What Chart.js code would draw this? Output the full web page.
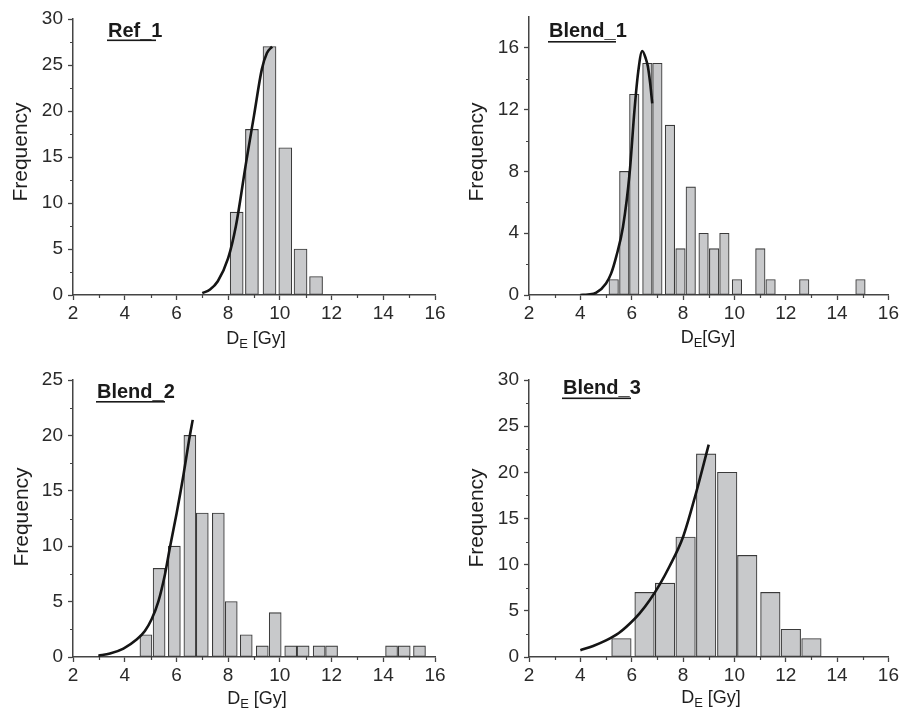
<!DOCTYPE html>
<html>
<head>
<meta charset="utf-8">
<script src="https://cdn.jsdelivr.net/npm/chart.js@4.4.1/dist/chart.umd.min.js"></script>
<style>
  html, body { margin: 0; padding: 0; background: #ffffff; }
  #wrap { position: relative; width: 901px; height: 711px; overflow: hidden; background: #fff; }
  #wrap canvas { position: absolute; }
</style>
</head>
<body>
<div id="wrap">
  <canvas id="c1" width="450" height="355" style="left:0px;top:0px;"></canvas>
  <canvas id="c2" width="451" height="355" style="left:450px;top:0px;"></canvas>
  <canvas id="c3" width="450" height="356" style="left:0px;top:355px;"></canvas>
  <canvas id="c4" width="451" height="356" style="left:450px;top:355px;"></canvas>
</div>
<script>
// ---------- DATA ----------
const xTickValues = [2, 4, 6, 8, 10, 12, 14, 16];

// Ref_1
const ref1Centers = [8.33, 8.92, 9.60, 10.21, 10.80, 11.40];
const ref1Counts  = [9, 18, 27, 16, 5, 2];
const ref1CurveX  = [7.0, 7.3, 7.6, 8.0, 8.3, 8.7, 9.0, 9.3, 9.5, 9.7];
const ref1CurveY  = [0.2, 0.6, 1.5, 4.0, 7.5, 14.5, 19.5, 24.5, 26.3, 27.0];

// Blend_1
const blend1Centers = [5.30, 5.71, 6.10, 6.61, 7.00, 7.49, 7.90, 8.30, 8.80, 9.21, 9.61, 10.10, 11.01, 11.41, 12.72, 14.91];
const blend1Counts  = [1, 8, 13, 15, 15, 11, 3, 7, 4, 3, 4, 1, 3, 1, 1, 1];
const blend1CurveX  = [4.0, 4.3, 4.62, 5.0, 5.2, 5.4, 5.66, 5.92, 6.11, 6.25, 6.41, 6.55, 6.63, 6.72, 6.80];
const blend1CurveY  = [0.0, 0.03, 0.15, 0.75, 1.4, 2.5, 4.4, 7.9, 12.0, 14.4, 15.8, 15.3, 14.8, 13.7, 12.4];

// Blend_2
const blend2Centers = [4.82, 5.33, 5.92, 6.52, 7.00, 7.62, 8.12, 8.70, 9.32, 9.82, 10.42, 10.90, 11.52, 12.00, 14.32, 14.81, 15.40];
const blend2Counts  = [2, 8, 10, 20, 13, 13, 5, 2, 1, 4, 1, 1, 1, 1, 1, 1, 1];
const blend2CurveX  = [2.98, 3.43, 3.95, 4.46, 4.78, 5.04, 5.30, 5.56, 5.75, 6.01, 6.27, 6.49, 6.63];
const blend2CurveY  = [0.12, 0.31, 0.76, 1.57, 2.35, 3.4, 5.0, 7.5, 9.9, 13.0, 16.4, 19.6, 21.4];

// Blend_3
const blend3Centers = [5.6, 6.5, 7.3, 8.1, 8.9, 9.72, 10.5, 11.4, 12.2, 13.0];
const blend3Counts  = [2, 7, 8, 13, 22, 20, 11, 7, 3, 2];
const blend3CurveX  = [4.0, 4.5, 5.0, 5.5, 5.92, 6.3, 6.7, 7.1, 7.47, 8.0, 8.5, 9.0];
const blend3CurveY  = [0.73, 1.2, 1.8, 2.6, 3.6, 4.7, 6.15, 7.9, 9.8, 13.0, 17.7, 23.0];

const panelTitles = ['Ref_1', 'Blend_1', 'Blend_2', 'Blend_3'];
const yAxisTitle = 'Frequency';
const xAxisMain = 'D';
const xAxisSub = 'E';
const xAxisUnits = [' [Gy]', '[Gy]', ' [Gy]', ' [Gy]'];

// ---------- helpers ----------
const FONT = '"Liberation Sans", Arial, Helvetica, sans-serif';
const toXY = (xs, ys) => xs.map((x, i) => ({ x: x, y: ys[i] }));

const minorTicks = {
  id: 'minorTicks',
  afterDraw(chart, args, opts) {
    const ctx = chart.ctx;
    const xs = chart.scales.x, ys = chart.scales.y;
    const a = chart.chartArea;
    ctx.save();
    ctx.strokeStyle = '#444';
    ctx.lineWidth = 1.2;
    ctx.beginPath();
    for (let v = xs.min + opts.xStep; v < xs.max; v += 2 * opts.xStep) {
      const px = Math.round(xs.getPixelForValue(v)) + 0.5;
      ctx.moveTo(px, a.bottom);
      ctx.lineTo(px, a.bottom + 3);
    }
    for (let v = ys.min + opts.yStep; v < ys.max - 1e-9; v += 2 * opts.yStep) {
      const py = Math.round(ys.getPixelForValue(v)) + 0.5;
      ctx.moveTo(a.left, py);
      ctx.lineTo(a.left - 3, py);
    }
    ctx.stroke();
    ctx.restore();
  }
};

const labelsPlugin = {
  id: 'panelLabels',
  afterDraw(chart, args, o) {
    const ctx = chart.ctx;
    ctx.save();
    ctx.fillStyle = '#1e1e1e';
    // y title
    ctx.save();
    ctx.translate(o.freqX, o.freqY);
    ctx.rotate(-Math.PI / 2);
    ctx.font = '21px ' + FONT;
    ctx.textAlign = 'center';
    ctx.textBaseline = 'middle';
    ctx.fillText(o.yTitle, 0, 0);
    ctx.restore();
    // x title with subscript
    ctx.textBaseline = 'alphabetic';
    ctx.textAlign = 'left';
    ctx.font = '18px ' + FONT;
    const wMain = ctx.measureText(o.xMain).width;
    const wUnit = ctx.measureText(o.xUnit).width;
    ctx.font = '13px ' + FONT;
    const wSub = ctx.measureText(o.xSub).width;
    const total = wMain + wSub + wUnit;
    let x = o.xLabelCx - total / 2;
    ctx.font = '18px ' + FONT;
    ctx.fillText(o.xMain, x, o.xLabelBase);
    x += wMain;
    ctx.font = '13px ' + FONT;
    ctx.fillText(o.xSub, x, o.xLabelBase + 4);
    x += wSub;
    ctx.font = '18px ' + FONT;
    ctx.fillText(o.xUnit, x, o.xLabelBase);
    // panel title
    ctx.font = 'bold 20px ' + FONT;
    ctx.fillStyle = '#1a1a1a';
    ctx.fillText(o.title, o.titleX, o.titleBase);
    ctx.fillRect(o.titleX - 1, o.underY, o.underW, 1.6);
    ctx.restore();
  }
};

function makePanel(id, centers, counts, cx, cy, yMax, yStep, barPx, area, lab) {
  const canvas = document.getElementById(id);
  const W = canvas.width, H = canvas.height;
  return new Chart(canvas, {
    type: 'bar',
    data: {
      datasets: [
        {
          type: 'line',
          data: toXY(cx, cy),
          borderColor: '#151515',
          borderWidth: 2.6,
          pointRadius: 0,
          fill: false,
          cubicInterpolationMode: 'monotone',
          order: 0
        },
        {
          type: 'bar',
          data: toXY(centers, counts),
          backgroundColor: '#c8c9cb',
          borderColor: '#3a3a3a',
          borderWidth: 1.1,
          borderSkipped: false,
          barThickness: barPx,
          order: 1
        }
      ]
    },
    options: {
      responsive: false,
      animation: false,
      events: [],
      layout: { padding: { left: 0, top: area.top, right: W - area.right, bottom: 0 } },
      plugins: {
        legend: { display: false },
        tooltip: { enabled: false },
        minorTicks: { xStep: 1, yStep: yStep / 2 },
        panelLabels: lab
      },
      scales: {
        x: {
          type: 'linear',
          min: 2, max: 16,
          offset: false,
          afterBuildTicks: (s) => { s.ticks = xTickValues.map(v => ({ value: v })); },
          afterFit: (s) => { s.height = H - area.bottom; },
          ticks: { color: '#2a2a2a', font: { family: FONT, size: 19 }, padding: 2, maxRotation: 0 },
          grid: { display: true, drawOnChartArea: false, drawTicks: true, tickLength: 5, tickColor: '#444', tickWidth: 1.3, offset: false },
          border: { display: true, color: '#444', width: 1.5 }
        },
        y: {
          min: 0, max: yMax,
          ticks: { stepSize: yStep, includeBounds: false, color: '#2a2a2a', font: { family: FONT, size: 19 }, padding: 5 },
          afterFit: (s) => { s.width = area.left; },
          grid: { display: true, drawOnChartArea: false, drawTicks: true, tickLength: 5, tickColor: '#444', tickWidth: 1.3 },
          border: { display: true, color: '#444', width: 1.5 }
        }
      }
    },
    plugins: [minorTicks, labelsPlugin]
  });
}

makePanel('c1', ref1Centers, ref1Counts, ref1CurveX, ref1CurveY, 30, 5, 13,
  { left: 73, right: 435, top: 19, bottom: 295 },
  { yTitle: yAxisTitle, freqX: 21, freqY: 152, xMain: xAxisMain, xSub: xAxisSub, xUnit: xAxisUnits[0],
    xLabelCx: 256, xLabelBase: 344, title: panelTitles[0], titleX: 108, titleBase: 36.5, underY: 39.5, underW: 49 });

makePanel('c2', blend1Centers, blend1Counts, blend1CurveX, blend1CurveY, 18, 4, 9.5,
  { left: 79, right: 440, top: 17, bottom: 295 },
  { yTitle: yAxisTitle, freqX: 27, freqY: 152, xMain: xAxisMain, xSub: xAxisSub, xUnit: xAxisUnits[1],
    xLabelCx: 258, xLabelBase: 343, title: panelTitles[1], titleX: 99, titleBase: 37, underY: 41, underW: 68 });

makePanel('c3', blend2Centers, blend2Counts, blend2CurveX, blend2CurveY, 25, 5, 12,
  { left: 73, right: 435, top: 25, bottom: 302 },
  { yTitle: yAxisTitle, freqX: 22, freqY: 162, xMain: xAxisMain, xSub: xAxisSub, xUnit: xAxisUnits[2],
    xLabelCx: 257, xLabelBase: 349, title: panelTitles[2], titleX: 97, titleBase: 43, underY: 46, underW: 69 });

makePanel('c4', blend3Centers, blend3Counts, blend3CurveX, blend3CurveY, 30, 5, 19.5,
  { left: 79, right: 440, top: 25, bottom: 302 },
  { yTitle: yAxisTitle, freqX: 27, freqY: 163, xMain: xAxisMain, xSub: xAxisSub, xUnit: xAxisUnits[3],
    xLabelCx: 261, xLabelBase: 348, title: panelTitles[3], titleX: 113, titleBase: 39, underY: 42.5, underW: 69 });
</script>
</body>
</html>
